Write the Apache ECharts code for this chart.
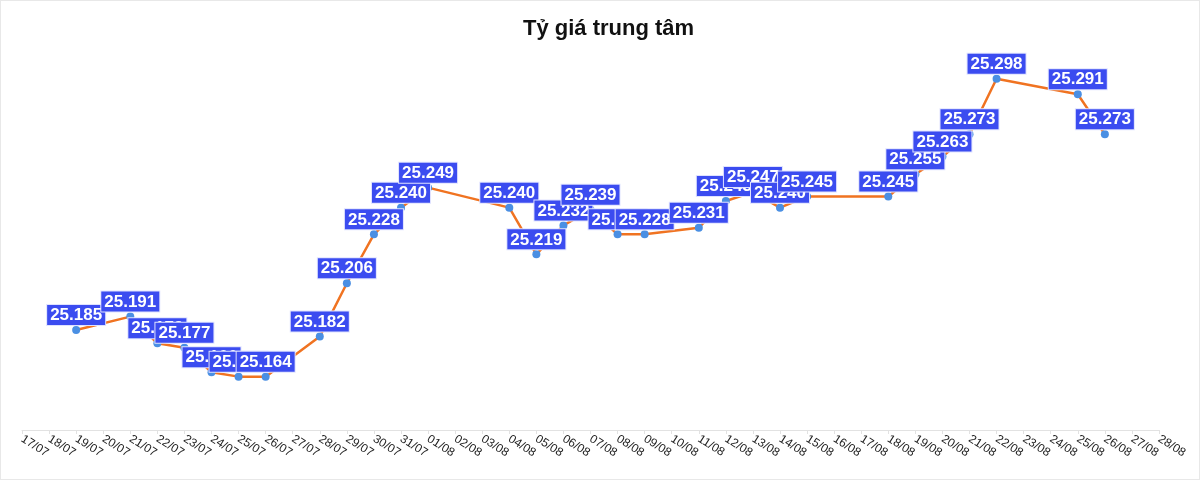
<!DOCTYPE html>
<html lang="vi">
<head>
    <meta charset="UTF-8">
    <title>Tỷ giá trung tâm</title>
    <style>
        html, body {
            margin: 0;
            padding: 0;
            background: #fff;
        }

        #main {
            width: 1200px;
            height: 480px;
            box-sizing: border-box;
            border: 1px solid #e8e8e8;
        }
    </style>
    <script src="https://cdn.jsdelivr.net/npm/echarts@6/dist/echarts.min.js"></script>
</head>
<body>
<div id="main"></div>

<script>
    // ngày (trục x)
    var dates = [
        '17/07', '18/07', '19/07', '20/07', '21/07', '22/07', '23/07', '24/07', '25/07', '26/07',
        '27/07', '28/07', '29/07', '30/07', '31/07', '01/08', '02/08', '03/08', '04/08', '05/08',
        '06/08', '07/08', '08/08', '09/08', '10/08', '11/08', '12/08', '13/08', '14/08', '15/08',
        '16/08', '17/08', '18/08', '19/08', '20/08', '21/08', '22/08', '23/08', '24/08', '25/08',
        '26/08', '27/08', '28/08'
    ];

    // tỷ giá trung tâm (null = không có số liệu)
    var rates = [
        null, null, 25.185, null, 25.191, 25.179, 25.177, 25.166, 25.164, 25.164,
        null, 25.182, 25.206, 25.228, 25.240, 25.249, null, null, 25.240, 25.219,
        25.232, 25.239, 25.228, 25.228, null, 25.231, 25.243, 25.247, 25.240, 25.245,
        null, null, 25.245, 25.255, 25.263, 25.273, 25.298, null, null, 25.291,
        25.273, null, null
    ];

    // giới hạn trục y
    var yMin = 25.14;
    var yMax = 25.31;

    var myChart = echarts.init(document.getElementById('main'));

    var option = {
        animation: false,
        textStyle: {
            fontFamily: 'Arial, "Liberation Sans", sans-serif'
        },
        title: {
            text: 'Tỷ giá trung tâm',
            left: 517,
            top: 12,
            textStyle: {
                fontSize: 22,
                fontWeight: 'bold',
                color: '#111'
            }
        },
        grid: {
            left: 21,
            right: 40,
            top: 51,
            bottom: 49,
            outerBoundsMode: 'none'
        },
        xAxis: {
            type: 'category',
            boundaryGap: false,
            data: dates,
            axisLine: {lineStyle: {color: '#e2e2e2', width: 1}},
            axisTick: {show: true, length: 4, lineStyle: {color: '#e2e2e2'}},
            axisLabel: {
                interval: 0,
                rotate: -32,
                margin: 8,
                fontSize: 12,
                color: '#222'
            },
            splitLine: {show: false}
        },
        yAxis: {
            type: 'value',
            min: yMin,
            max: yMax,
            axisLine: {show: false},
            axisTick: {show: false},
            axisLabel: {show: false},
            splitLine: {show: false}
        },
        series: [
            {
                type: 'line',
                data: rates,
                connectNulls: true,
                symbol: 'circle',
                symbolSize: 8,
                lineStyle: {color: '#f07321', width: 2.5},
                itemStyle: {color: '#4a8fe3'},
                label: {
                    show: true,
                    position: 'top',
                    distance: 1,
                    formatter: function (p) {
                        return p.value.toFixed(3);
                    },
                    color: '#fff',
                    fontSize: 17,
                    fontWeight: 'bold',
                    backgroundColor: '#3b4cf0',
                    borderColor: '#dfe2ff',
                    borderWidth: 1,
                    padding: [2, 3, 1, 3]
                },
                labelLine: {
                    show: true,
                    lineStyle: {color: '#aaa', width: 0.8}
                },
                labelLayout: {
                    moveOverlap: 'shiftY'
                }
            }
        ]
    };

    myChart.setOption(option);
</script>
</body>
</html>
